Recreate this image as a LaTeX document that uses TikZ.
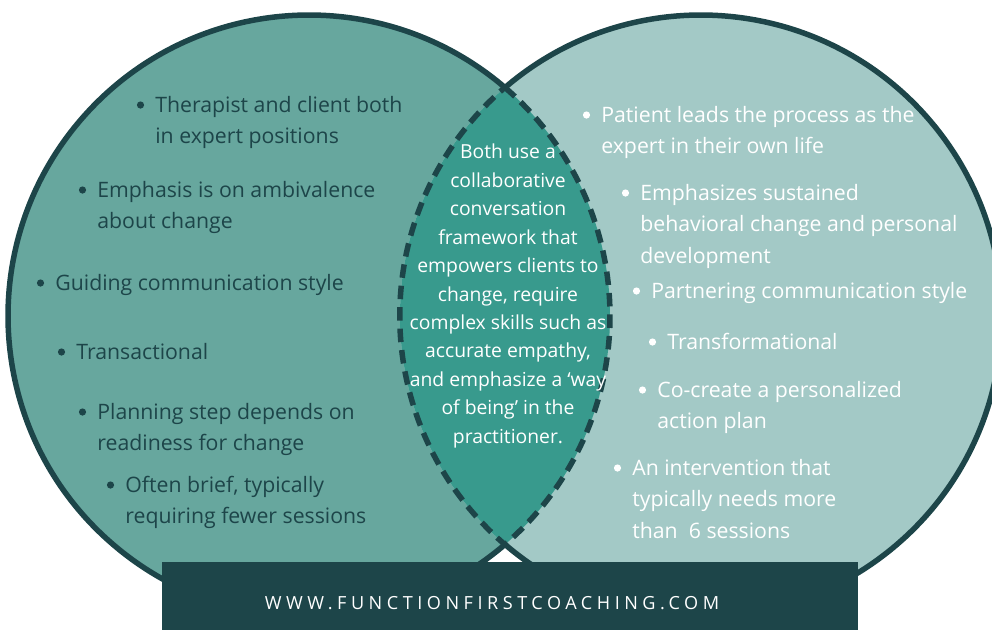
\documentclass[tikz,border=0pt]{standalone}
\usepackage{fontspec}
\setmainfont{Open Sans}
\newfontfamily\webfont[LetterSpace=25]{Open Sans}

\definecolor{ringline}{HTML}{1D4549}
\definecolor{leftfill}{HTML}{67A79E}
\definecolor{rightfill}{HTML}{A3C9C6}
\definecolor{lensfill}{HTML}{389A8D}

% several lines, baseline on the first one
\newcommand{\lines}[1]{\begin{tabular}[t]{@{}l@{}}#1\end{tabular}}

\begin{document}
\begin{tikzpicture}[x=0.02cm,y=-0.02cm,
    ring/.style={line width=0.11cm,draw=ringline},
    pt/.style={anchor=base west,inner sep=0pt,font=\fontsize{12.1}{18.2}\selectfont},
    lpt/.style={pt,text=ringline},
    rpt/.style={pt,text=white}]

    \useasboundingbox (0,0) rectangle (992,630);

    % ============================
    % Circles and the lens
    % ============================

    \coordinate (cl) at (309,316);
    \coordinate (cr) at (701,316);

    \fill[leftfill] (cl) circle (301);
    \fill[rightfill] (cr) circle (301);
    \begin{scope}
        \clip (cl) circle (301);
        \fill[lensfill] (cr) circle (301);
    \end{scope}

    % dashed border of the lens
    \draw[ring,dash pattern=on 0.27cm off 0.16cm]
        ([shift={(-49.4:301)}]cl) arc[start angle=-49.4,end angle=49.4,radius=301]
        arc[start angle=130.6,end angle=229.4,radius=301] -- cycle;

    % solid outer arcs
    \draw[ring] ([shift={(-49.4:301)}]cl) arc[start angle=-49.4,end angle=-310.6,radius=301];
    \draw[ring] ([shift={(-130.6:301)}]cr) arc[start angle=-130.6,end angle=130.6,radius=301];

    % ============================
    % Left circle
    % ============================

    \node[lpt] (l1) at (155,112) {\lines{Therapist and client both\\ in expert positions}};
    \node[lpt] (l2) at (97,197) {\lines{Emphasis is on ambivalence\\ about change}};
    \node[lpt] (l3) at (55,290) {Guiding communication style};
    \node[lpt] (l4) at (76,359) {Transactional};
    \node[lpt] (l5) at (97,419) {\lines{Planning step depends on\\ readiness for change}};
    \node[lpt] (l6) at (125,492) {\lines{Often brief, typically\\ requiring fewer sessions}};

    \foreach \n in {l1,l2,l3,l4,l5,l6}
        \fill[ringline] ([shift={(-14.5,-7)}]\n.base west) circle (3.6);

    % ============================
    % Right circle
    % ============================

    \node[rpt] (r1) at (601,122) {\lines{Patient leads the process as the\\ expert in their own life}};
    \node[rpt] (r2) at (640,200) {\lines{Emphasizes sustained\\ behavioral change and personal\\ development}};
    \node[rpt] (r3) at (651,298) {Partnering communication style};
    \node[rpt] (r4) at (667,349) {Transformational};
    \node[rpt] (r5) at (657,397) {\lines{Co-create a personalized\\ action plan}};
    \node[rpt] (r6) at (632,475) {\lines{An intervention that\\ typically needs more\\ than\ \ 6 sessions}};

    \foreach \n in {r1,r2,r3,r4,r5,r6}
        \fill[white] ([shift={(-14.5,-7)}]\n.base west) circle (3.6);

    % ============================
    % Shared part
    % ============================

    \node[text=white,align=center,inner sep=0pt,font=\fontsize{11}{16.2}\selectfont]
        (both) at (508,296)
        {Both use a\\ collaborative\\ conversation\\ framework that\\ empowers clients to\\
         change, require\\ complex skills such as\\ accurate empathy,\\
         and emphasize a ‘way\\ of being’ in the\\ practitioner.};

    % ============================
    % Banner
    % ============================

    \node[fill=ringline,inner sep=0pt,minimum width=13.92cm,minimum height=1.36cm]
        (site) at (510,596) {};
    \node[text=white,inner sep=0pt,font=\webfont\fontsize{10.3}{12}\selectfont]
        (url) at (492,603) {WWW.FUNCTIONFIRSTCOACHING.COM};

\end{tikzpicture}
\end{document}
